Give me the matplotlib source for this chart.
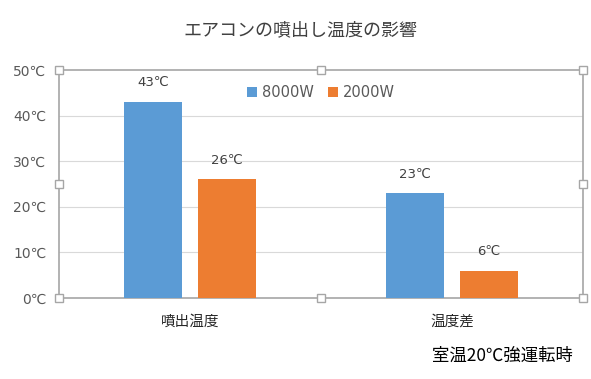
import numpy as np
import matplotlib.pyplot as plt

plt.rcParams['font.family'] = ['Noto Sans CJK JP', 'DejaVu Sans']
num_font = ['DejaVu Sans', 'Noto Sans CJK JP']

categories = ['噴出温度', '温度差']
series_names = ['8000W', '2000W']
values_8000 = [43, 23]
values_2000 = [26, 6]
y_ticks = [0, 10, 20, 30, 40, 50]
y_labels = ['0℃', '10℃', '20℃', '30℃', '40℃', '50℃']

blue = '#5B9BD5'
orange = '#ED7D31'
grey_txt = '#595959'

fig = plt.figure(figsize=(5.91, 3.79), dpi=100)
ax = fig.add_axes([59 / 591, 81 / 379, 524 / 591, 228 / 379])

x = np.arange(len(categories))
w = 0.221
off = 0.141
b1 = ax.bar(x - off, values_8000, w, color=blue, label=series_names[0], zorder=3)
b2 = ax.bar(x + off, values_2000, w, color=orange, label=series_names[1], zorder=3)

for bars, vals in [(b1, values_8000), (b2, values_2000)]:
    for rect, v in zip(bars, vals):
        ax.annotate(f'{v}℃', (rect.get_x() + rect.get_width() / 2, v),
                    xytext=(0, 9), textcoords='offset points',
                    ha='center', va='bottom', fontsize=9.5, color='#404040',
                    family=num_font)

ax.set_xlim(-0.5, 1.5)
ax.set_ylim(0, 50)
ax.set_yticks(y_ticks)
ax.set_yticklabels(y_labels, color=grey_txt, fontsize=10, family=num_font)
ax.set_xticks(x)
ax.set_xticklabels(categories, fontsize=10.5, color='#262626')
ax.tick_params(length=0, pad=9)
ax.tick_params(axis='x', pad=12)

# gridlines
for t in y_ticks[1:-1]:
    ax.axhline(t, color='#D9D9D9', lw=0.8, zorder=1)

for s in ax.spines.values():
    s.set_color('#A6A6A6')
    s.set_linewidth(1.2)

# selection handles
hx = [0, 0.5, 1, 0, 1, 0, 0.5, 1]
hy = [1, 1, 1, 0.5, 0.5, 0, 0, 0]
ax.plot(hx, hy, 's', transform=ax.transAxes, ms=6, mfc='white',
        mec='#A6A6A6', mew=1, clip_on=False, zorder=5, ls='none')

leg = ax.legend(loc='upper center', bbox_to_anchor=(0.5, 0.99), ncol=2,
                frameon=False, prop={'family': num_font, 'size': 10.5},
                handlelength=0.7, handleheight=0.7,
                columnspacing=1.0, handletextpad=0.3)
for t in leg.get_texts():
    t.set_color(grey_txt)

fig.text(300 / 591, 1 - 30 / 379, 'エアコンの噴出し温度の影響', ha='center', va='center',
         fontsize=13, color='#404040')
fig.text(502 / 591, 1 - 356 / 379, '室温20℃強運転時', ha='center', va='center',
         fontsize=12.5, color='black')

fig.savefig('out.png', dpi=100)
